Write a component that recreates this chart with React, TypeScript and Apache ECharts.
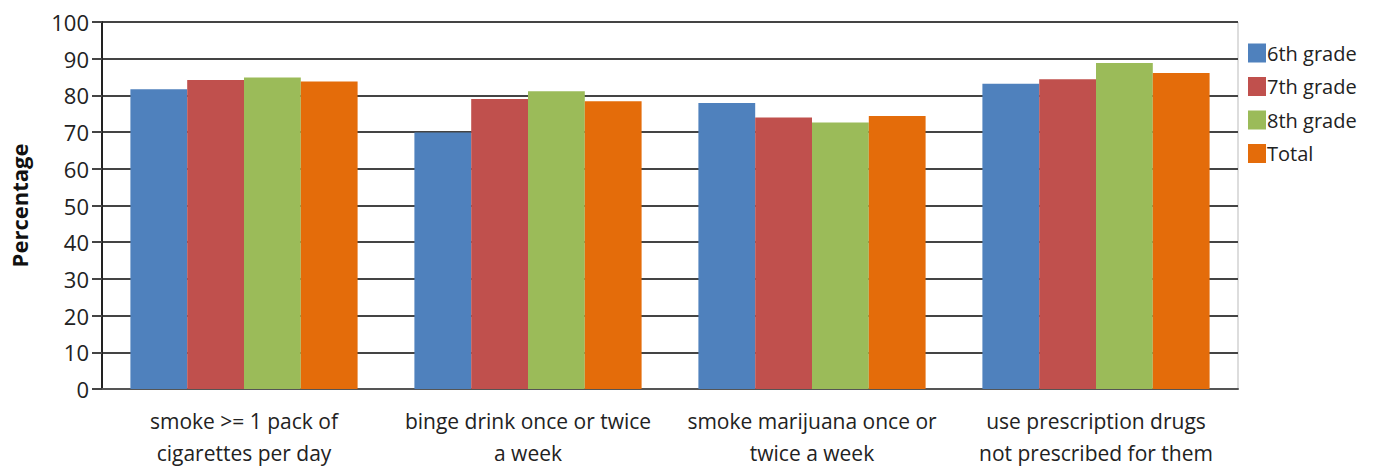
import React, { useEffect, useRef } from "react";
import * as echarts from "echarts";

const categories = [
  "smoke >= 1 pack of\ncigarettes per day",
  "binge drink once or twice\na week",
  "smoke marijuana once or\ntwice a week",
  "use prescription drugs\nnot prescribed for them",
];
const seriesNames = ["6th grade", "7th grade", "8th grade", "Total"];
const grade6 = [81.7, 69.9, 77.9, 83.2];
const grade7 = [84.2, 79.0, 74.0, 84.4];
const grade8 = [84.9, 81.1, 72.6, 88.8];
const total = [83.8, 78.4, 74.4, 86.1];
const colors = ["#4F81BD", "#C0504D", "#9BBB59", "#E46C0A"];
const yTicks = [0, 10, 20, 30, 40, 50, 60, 70, 80, 90, 100];

export default function App() {
  const ref = useRef<HTMLDivElement>(null);
  useEffect(() => {
    if (!ref.current) return;
    const chart = echarts.init(ref.current, null, { renderer: "svg" });
    const values = [grade6, grade7, grade8, total];
    const font = "'Open Sans', 'Liberation Sans', sans-serif";
    chart.setOption({
      animation: false,
      textStyle: { fontFamily: font },
      grid: {
        left: 102,
        right: 136,
        top: 22,
        bottom: 77,
        containLabel: false,
        outerBoundsMode: "none",
        show: true,
        borderColor: "#bbbbbb",
        borderWidth: 1,
      },
      legend: {
        orient: "vertical",
        left: 1243,
        top: 38,
        itemWidth: 18,
        itemHeight: 19,
        itemGap: 13.5,
        icon: "rect",
        data: seriesNames,
        textStyle: { fontSize: 20, color: "#222", fontFamily: font, padding: [0, 0, 0, -4] },
      },
      xAxis: {
        type: "category",
        data: categories,
        axisLine: { lineStyle: { color: "#555", width: 2 } },
        axisTick: { show: false },
        axisLabel: {
          fontSize: 21,
          color: "#222",
          lineHeight: 32,
          margin: 16,
          interval: 0,
          fontFamily: font,
        },
      },
      yAxis: {
        type: "value",
        min: yTicks[0],
        max: yTicks[yTicks.length - 1],
        interval: 10,
        name: "Percentage",
        nameLocation: "middle",
        nameGap: 72,
        nameTextStyle: { fontSize: 22, fontWeight: "bold", color: "#111", fontFamily: font },
        axisLine: { show: true, lineStyle: { color: "#222", width: 2 } },
        axisTick: { show: true, length: 10, lineStyle: { color: "#444", width: 2 } },
        axisLabel: { fontSize: 22, color: "#222", margin: 13, fontFamily: font },
        splitLine: { lineStyle: { color: "#444", width: 2 } },
      },
      series: seriesNames.map((name, i) => ({
        name,
        type: "bar",
        data: values[i],
        barGap: "0%",
        barCategoryGap: "20%",
        itemStyle: { color: colors[i] },
      })),
    });
    return () => chart.dispose();
  }, []);
  return (
    <div
      ref={ref}
      style={{ position: "fixed", left: 0, top: 0, width: 1374, height: 466, background: "#fff" }}
    />
  );
}
